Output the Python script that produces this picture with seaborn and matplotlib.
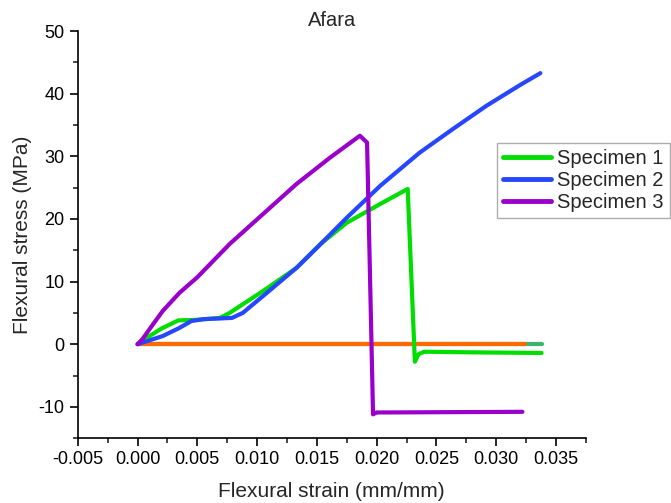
import numpy as np
import pandas as pd
import matplotlib
matplotlib.use("Agg")
import matplotlib.pyplot as plt
from matplotlib.ticker import MultipleLocator, AutoMinorLocator, FormatStrFormatter
import seaborn as sns

# ---- data ----
spec1_x = [0, 0.0010, 0.0020, 0.0034, 0.0050, 0.0069, 0.0077, 0.0105, 0.0133, 0.0153,
           0.0175, 0.0203, 0.0226, 0.0232, 0.0235, 0.0240, 0.0280, 0.0338]
spec1_y = [0, 1.3, 2.5, 3.8, 3.9, 4.2, 5.0, 8.5, 12.2, 16.0,
           19.4, 22.4, 24.8, -2.8, -1.6, -1.2, -1.3, -1.4]

spec2_x = [0, 0.0008, 0.0021, 0.0035, 0.0045, 0.0055, 0.0079, 0.0088, 0.0105, 0.0133,
           0.0150, 0.0175, 0.0203, 0.0236, 0.0264, 0.0292, 0.0320, 0.0337]
spec2_y = [0, 0.5, 1.3, 2.6, 3.7, 4.0, 4.2, 5.0, 7.7, 12.2,
           15.4, 20.2, 25.3, 30.6, 34.4, 38.1, 41.4, 43.3]

spec3_x = [0, 0.0004, 0.0013, 0.0021, 0.0035, 0.0050, 0.0077, 0.0105, 0.0133, 0.0161,
           0.0186, 0.0192, 0.0197, 0.0200, 0.0210, 0.0322]
spec3_y = [0, 0.8, 3.2, 5.3, 8.2, 10.7, 16.0, 20.8, 25.6, 29.8,
           33.3, 32.2, -11.2, -10.9, -10.9, -10.8]

base_a_x = [0, 0.0338]
base_a_y = [0, 0]
base_b_x = [0, 0.0324]
base_b_y = [0, 0]

labels = ["Specimen 1", "Specimen 2", "Specimen 3"]
colors = ["#00dd00", "#2646ff", "#9a00cc"]

frames = []
for lab, xs, ys in zip(labels, [spec1_x, spec2_x, spec3_x], [spec1_y, spec2_y, spec3_y]):
    frames.append(pd.DataFrame({"strain": xs, "stress": ys, "series": lab}))
df = pd.concat(frames, ignore_index=True)

sns.set_style("ticks")
plt.rcParams["font.family"] = ["Liberation Sans", "DejaVu Sans"]
plt.rcParams["axes.unicode_minus"] = False

fig = plt.figure(figsize=(6.71, 5.03), dpi=100)
ax = fig.add_axes([0.116, 0.129, 0.757, 0.809])

lw = 3.0
sns.lineplot(x=base_a_x, y=base_a_y, ax=ax, color="#3cb371", lw=lw, legend=False,
             sort=False, estimator=None)
sns.lineplot(x=base_b_x, y=base_b_y, ax=ax, color="#ff6a00", lw=lw, legend=False,
             sort=False, estimator=None)
sns.lineplot(data=df, x="strain", y="stress", hue="series", units="series",
             estimator=None, sort=False, palette=colors, lw=lw, ax=ax,
             solid_capstyle="round", solid_joinstyle="round")

ax.set_xlim(-0.005, 0.0375)
ax.set_ylim(-15, 50)
ax.xaxis.set_major_locator(MultipleLocator(0.005))
ax.xaxis.set_minor_locator(AutoMinorLocator(2))
ax.xaxis.set_major_formatter(FormatStrFormatter("%.3f"))
ax.yaxis.set_major_locator(MultipleLocator(10))
ax.yaxis.set_minor_locator(AutoMinorLocator(2))

for s in ["top", "right"]:
    ax.spines[s].set_visible(False)
for s in ["left", "bottom"]:
    ax.spines[s].set_color("black")
    ax.spines[s].set_linewidth(1.2)

ax.tick_params(axis="both", which="major", direction="out", length=6, width=1.2,
               labelsize=13, colors="black")
ax.tick_params(axis="both", which="minor", direction="out", length=3.5, width=1.2)

ax.set_xlabel("Flexural strain (mm/mm)", fontsize=15, labelpad=10)
ax.set_ylabel("Flexural stress (MPa)", fontsize=15)
ax.yaxis.set_label_coords(-0.09, 0.5)
ax.set_title("Afara", fontsize=14.5, pad=4)

handles, labs = ax.get_legend_handles_labels()
leg = ax.legend(handles[-3:], labs[-3:], loc="upper left",
                bbox_to_anchor=(0.825, 0.726), fontsize=14.5, frameon=True,
                fancybox=False, edgecolor="#999999", handlelength=2.4,
                handletextpad=0.3, borderaxespad=0, borderpad=0.3,
                labelspacing=0.15)
leg.get_frame().set_linewidth(1.0)
for h in leg.get_lines():
    h.set_linewidth(3.5)

fig.savefig("out.png", dpi=100)
